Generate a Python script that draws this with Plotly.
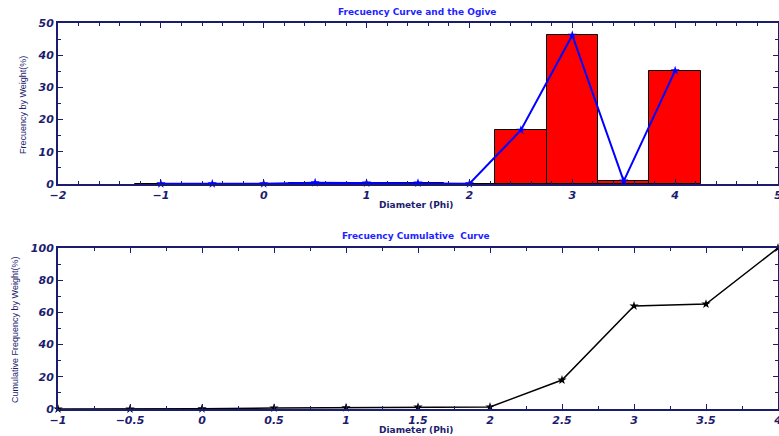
import plotly.graph_objects as go

# Data
phi = [-1, -0.5, 0, 0.5, 1, 1.5, 2, 2.5, 3, 3.5, 4]
freq = [0.05, 0.05, 0.1, 0.4, 0.3, 0.3, 0.1, 16.7, 46.2, 0.9, 35.2]
cum_freq = [0.0, 0.0, 0.2, 0.6, 0.8, 1.2, 1.3, 18.0, 64.0, 65.2, 100.0]

title_top = "Frecuency Curve and the Ogive"
title_bottom = "Frecuency Cumulative  Curve"
xlabel = "Diameter (Phi)"
ylabel_top = "Frecuency by Weight(%)"
ylabel_bottom = "Cumulative Frequency by Weight(%)"

NAVY = "#1c1c6e"
BLUE = "#1f1fff"
FONT = "DejaVu Sans, sans-serif"
FONT2 = "Liberation Sans, Arial, sans-serif"

W, H = 779, 436
L, R = 58, 1

def py(yp):
    return (H - yp) / H

def pxf(xp):
    return (xp - L) / (W - L - R)

fig = go.Figure()

fig.add_trace(go.Bar(
    x=phi, y=freq, width=0.5,
    marker=dict(color="#ff0000", line=dict(color="#000000", width=1)),
    xaxis="x", yaxis="y", showlegend=False,
))
fig.add_trace(go.Scatter(
    x=phi, y=freq, mode="lines+markers",
    line=dict(color="#0000ff", width=2),
    marker=dict(symbol="star", size=7, color="#0000ff"),
    xaxis="x", yaxis="y", showlegend=False, cliponaxis=False,
))
fig.add_trace(go.Scatter(
    x=phi, y=cum_freq, mode="lines+markers",
    line=dict(color="#000000", width=1.5),
    marker=dict(symbol="star", size=7, color="#000000"),
    xaxis="x2", yaxis="y2", showlegend=False, cliponaxis=False,
))

tickfont = dict(family=FONT, size=11, color=NAVY, weight="bold", style="italic")

def axis_common(dtick, minor_dtick, rng):
    return dict(
        range=rng, dtick=dtick, tick0=0, autorange=False, automargin=False,
        showline=True, linecolor=NAVY, linewidth=2, mirror="allticks",
        ticks="inside", ticklen=5, tickwidth=1, tickcolor=NAVY,
        minor=dict(dtick=minor_dtick, ticks="inside", ticklen=3, tickcolor=NAVY, tickwidth=1, showgrid=False),
        showgrid=False, zeroline=False, tickfont=tickfont,
        ticklabeloverflow="allow",
    )

fig.update_layout(
    width=W, height=H,
    margin=dict(l=L, r=R, t=0, b=0, autoexpand=False),
    paper_bgcolor="white", plot_bgcolor="white",
    bargap=0,
    xaxis=dict(domain=[0, 1], anchor="y", **axis_common(1, 0.2, [-2, 5])),
    yaxis=dict(domain=[py(184), py(23)], anchor="x", **axis_common(10, 5, [0, 50])),
    xaxis2=dict(domain=[0, 1], anchor="y2", **axis_common(0.5, 0.25, [-1, 4])),
    yaxis2=dict(domain=[py(409), py(248)], anchor="x2", **axis_common(20, 10, [0, 100])),
)

def ann(text, xp, yp, size, color, family, bold=True, angle=0):
    fig.add_annotation(
        text=text, xref="paper", yref="paper",
        x=pxf(xp), y=py(yp),
        xanchor="center", yanchor="middle", showarrow=False, textangle=angle,
        font=dict(family=family, size=size, color=color, weight="bold" if bold else "normal"),
    )

ann(title_top, 417, 12, 9, BLUE, FONT)
ann(title_bottom, 416, 236, 9, BLUE, FONT)
ann(xlabel, 416, 205, 9, NAVY, FONT)
ann(xlabel, 416, 430, 9, NAVY, FONT)
ann(ylabel_top, 23, 105, 9, NAVY, FONT2, bold=False, angle=-90)
ann(ylabel_bottom, 15, 330, 9, NAVY, FONT2, bold=False, angle=-90)

fig.write_html(
    "out.html",
    config={"displayModeBar": False},
    post_script="document.body.style.margin='0';document.body.style.overflow='hidden';",
)
